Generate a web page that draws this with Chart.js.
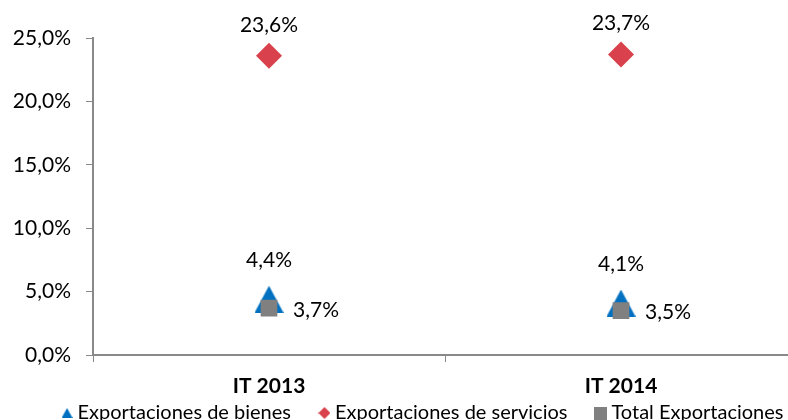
<!DOCTYPE html>
<html>
<head>
<meta charset="utf-8">
<script src="https://cdn.jsdelivr.net/npm/chart.js@4/dist/chart.umd.min.js"></script>
<style>
  html, body { margin: 0; padding: 0; background: #fff; overflow: hidden; }
  #wrap { width: 788px; height: 420px; overflow: hidden; }
</style>
</head>
<body>
<div id="wrap"><canvas id="exportChart" width="812" height="420"></canvas></div>
<script>
// chart data
const categories = ['IT 2013', 'IT 2014'];
const bienes = [4.4, 4.1];
const servicios = [23.6, 23.7];
const totalExport = [3.7, 3.5];
const seriesNames = ['Exportaciones de bienes', 'Exportaciones de servicios', 'Total Exportaciones'];

const BLUE = '#0070C0', RED = '#D9424C', GREY = '#808080';
const LEGEND_PAD = 33;

const fmt = v => v.toFixed(1).replace('.', ',') + '%';

// small canvas markers (Excel centres them on their bounding box)
function marker(w, h, color, shape) {
  const c = document.createElement('canvas');
  c.width = w; c.height = h;
  const g = c.getContext('2d');
  g.fillStyle = color;
  g.beginPath();
  if (shape === 'tri') {
    g.moveTo(0, h); g.lineTo(w / 2, 0); g.lineTo(w, h);
  } else if (shape === 'dia') {
    g.moveTo(w / 2, 0); g.lineTo(w, h / 2); g.lineTo(w / 2, h); g.lineTo(0, h / 2);
  } else {
    g.rect(0, 0, w, h);
  }
  g.closePath();
  g.fill();
  return c;
}
const triBig = marker(29, 27, BLUE, 'tri');
const legendMarks = [marker(11, 10, BLUE, 'tri'), marker(12, 12, RED, 'dia'), marker(13, 13, GREY, 'sq')];

// draws the value labels next to each marker
const valueLabels = {
  id: 'valueLabels',
  afterDatasetsDraw(chart) {
    const ctx = chart.ctx;
    ctx.save();
    ctx.font = '21px Lato';
    ctx.fillStyle = '#000';
    ctx.textBaseline = 'middle';
    chart.data.datasets.forEach((ds, i) => {
      const meta = chart.getDatasetMeta(i);
      meta.data.forEach((pt, j) => {
        const txt = fmt(ds.data[j]);
        if (ds.labelPos === 'right') {
          ctx.textAlign = 'left';
          ctx.fillText(txt, pt.x + 24, pt.y + 2);
        } else {
          ctx.textAlign = 'center';
          ctx.fillText(txt, pt.x, pt.y - ds.labelGap);
        }
      });
    });
    ctx.restore();
  }
};

// legend: keep the wide item spacing but take little vertical room
const legendPlace = {
  id: 'legendPlace',
  beforeInit(chart) {
    const lg = chart.legend;
    const fit = lg.fit;
    lg.fit = function () { fit.call(this); this.height = 21; };
  },
  afterLayout(chart) {
    const lg = chart.legend;
    const dx = 425 - (lg.left + lg.right) / 2;
    lg.top = 413 - 10 - LEGEND_PAD;
    lg.bottom = chart.height;
    lg.height = lg.bottom - lg.top;
    lg.left += dx; lg.right += dx;
  }
};

new Chart(document.getElementById('exportChart'), {
  type: 'line',
  data: {
    labels: categories,
    datasets: [
      {
        label: seriesNames[0], data: bienes, showLine: false,
        pointStyle: triBig, pointRadius: 15, pointHoverRadius: 15,
        backgroundColor: BLUE, borderColor: BLUE, pointBorderWidth: 0,
        order: 2, labelPos: 'top', labelGap: 38.5
      },
      {
        label: seriesNames[1], data: servicios, showLine: false,
        pointStyle: 'rectRot', pointRadius: 13, pointHoverRadius: 13,
        backgroundColor: RED, borderColor: RED, pointBorderWidth: 0,
        order: 1, labelPos: 'top', labelGap: 31
      },
      {
        label: seriesNames[2], data: totalExport, showLine: false,
        pointStyle: 'rect', pointRadius: 11.8, pointHoverRadius: 11.8,
        backgroundColor: GREY, borderColor: GREY, pointBorderWidth: 0,
        order: 0, labelPos: 'right'
      }
    ]
  },
  options: {
    responsive: false,
    animation: false,
    layout: { padding: { top: 38, left: 0, right: 13, bottom: 0 } },
    scales: {
      x: {
        offset: true,
        grid: { display: true, offset: true, drawOnChartArea: false, color: '#898989', tickLength: 7 },
        border: { color: '#898989', width: 2 },
        ticks: { color: '#000', font: { family: 'Lato', size: 21, weight: 'bold' }, padding: 12 },
        afterFit: scale => { scale.height = 44; }
      },
      y: {
        min: 0, max: 25,
        grid: { drawOnChartArea: false, color: '#898989', tickLength: 7 },
        border: { color: '#898989', width: 2 },
        ticks: {
          stepSize: 5, color: '#000', padding: 15,
          font: { family: 'Lato', size: 21 },
          callback: v => fmt(v)
        },
        afterFit: scale => { scale.width = 93; }
      }
    },
    plugins: {
      legend: {
        position: 'bottom',
        labels: {
          usePointStyle: true, boxHeight: 1, boxWidth: 1, padding: LEGEND_PAD,
          color: '#000', font: { family: 'Lato', size: 20 },
          sort: (a, b) => a.datasetIndex - b.datasetIndex,
          generateLabels: chart => {
            const items = Chart.defaults.plugins.legend.labels.generateLabels(chart);
            items.forEach(it => { it.pointStyle = legendMarks[it.datasetIndex]; });
            return items;
          }
        }
      },
      tooltip: { enabled: false }
    }
  },
  plugins: [valueLabels, legendPlace]
});
</script>
</body>
</html>
